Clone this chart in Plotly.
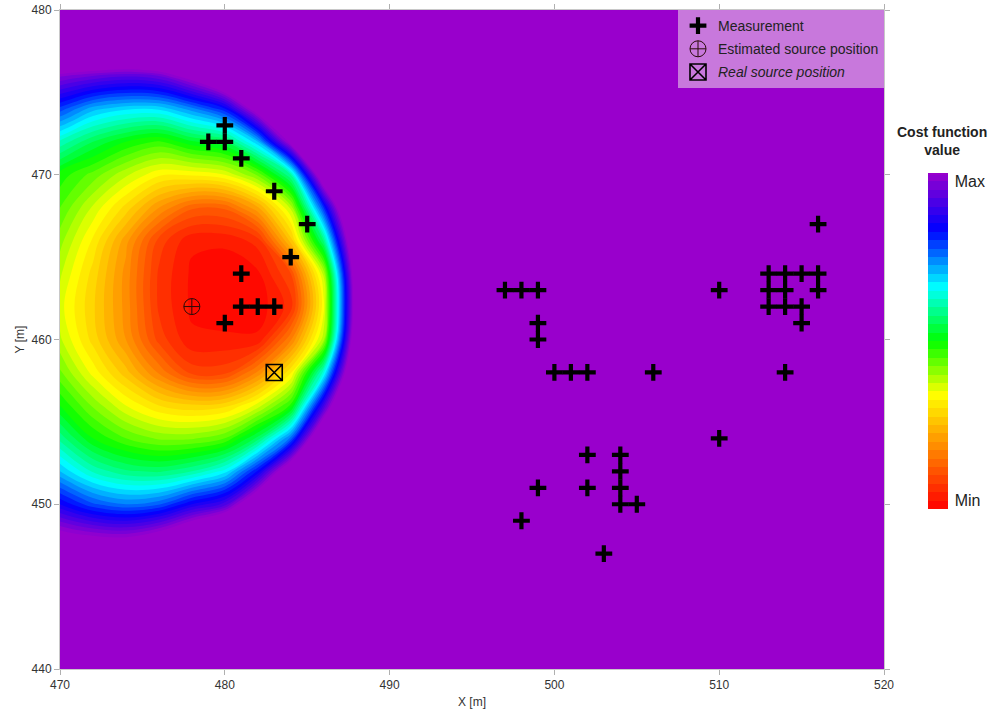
import plotly.graph_objects as go

# Normalised cost-function surface (0 = Min, 1 = Max; values above 1 are shown as Max)
grid_x = [466, 470, 472, 474, 476, 478, 480, 482, 484, 486, 488, 490, 520]
grid_y = [440, 446, 448, 450, 452, 454, 456, 458, 460, 462, 464, 466,
          468, 470, 472, 474, 476, 478, 480]
cost = [
    # 466   470   472   474   476   478   480   482   484   486   488   490   520
    [1.80, 1.80, 1.80, 1.80, 1.80, 1.80, 1.80, 1.80, 1.80, 1.80, 1.80, 1.80, 1.80],  # 440
    [1.60, 1.47, 1.41, 1.40, 1.44, 1.54, 1.70, 1.80, 1.80, 1.80, 1.80, 1.80, 1.80],  # 446
    [1.15, 1.04, 1.01, 1.00, 1.05, 1.15, 1.28, 1.49, 1.70, 1.80, 1.80, 1.80, 1.80],  # 448
    [1.00, 0.85, 0.78, 0.75, 0.77, 0.85, 0.91, 1.13, 1.40, 1.70, 1.80, 1.80, 1.80],  # 450
    [0.86, 0.70, 0.62, 0.58, 0.57, 0.60, 0.66, 0.83, 1.11, 1.43, 1.80, 1.80, 1.80],  # 452
    [0.78, 0.59, 0.50, 0.45, 0.42, 0.42, 0.45, 0.56, 0.76, 1.17, 1.52, 1.80, 1.80],  # 454
    [0.68, 0.50, 0.42, 0.35, 0.30, 0.28, 0.29, 0.36, 0.48, 0.90, 1.34, 1.72, 1.80],  # 456
    [0.60, 0.43, 0.34, 0.26, 0.17, 0.09, 0.09, 0.18, 0.32, 0.64, 1.20, 1.59, 1.80],  # 458
    [0.55, 0.38, 0.29, 0.20, 0.09, 0.03, 0.03, 0.03, 0.17, 0.39, 1.12, 1.51, 1.80],  # 460
    [0.54, 0.36, 0.28, 0.19, 0.07, 0.02, 0.01, 0.01, 0.06, 0.34, 1.08, 1.48, 1.80],  # 462
    [0.56, 0.38, 0.29, 0.19, 0.07, 0.02, 0.01, 0.02, 0.10, 0.38, 1.10, 1.50, 1.80],  # 464
    [0.60, 0.41, 0.32, 0.21, 0.09, 0.03, 0.03, 0.06, 0.26, 0.58, 1.17, 1.56, 1.80],  # 466
    [0.62, 0.45, 0.37, 0.29, 0.20, 0.13, 0.13, 0.22, 0.38, 0.80, 1.29, 1.67, 1.80],  # 468
    [0.62, 0.49, 0.44, 0.38, 0.33, 0.33, 0.35, 0.43, 0.60, 1.11, 1.46, 1.80, 1.80],  # 470
    [0.72, 0.62, 0.55, 0.50, 0.47, 0.52, 0.55, 0.70, 1.03, 1.34, 1.66, 1.80, 1.80],  # 472
    [0.90, 0.79, 0.71, 0.68, 0.68, 0.74, 0.82, 1.06, 1.31, 1.59, 1.80, 1.80, 1.80],  # 474
    [1.10, 0.98, 0.95, 0.93, 0.95, 1.04, 1.19, 1.39, 1.62, 1.80, 1.80, 1.80, 1.80],  # 476
    [1.50, 1.35, 1.29, 1.28, 1.33, 1.42, 1.55, 1.73, 1.80, 1.80, 1.80, 1.80, 1.80],  # 478
    [1.80, 1.80, 1.80, 1.80, 1.80, 1.80, 1.80, 1.80, 1.80, 1.80, 1.80, 1.80, 1.80],  # 480
]

# Measurement positions [m]
meas_x = [480, 479, 480, 481, 483, 485, 484, 481, 481, 482, 483, 480,
          497, 498, 499, 499, 499, 500, 501, 502, 506, 510, 510,
          502, 504, 504, 504, 504, 505, 499, 502, 498, 503,
          516, 513, 514, 515, 516, 513, 514, 516, 513, 514, 515, 515, 514]
meas_y = [473, 472, 472, 471, 469, 467, 465, 464, 462, 462, 462, 461,
          463, 463, 463, 461, 460, 458, 458, 458, 458, 463, 454,
          453, 453, 452, 451, 450, 450, 451, 451, 449, 447,
          467, 464, 464, 464, 464, 463, 463, 463, 462, 462, 462, 461, 458]

est_x, est_y = [478], [462]
real_x, real_y = [483], [458]

x_ticks = [470, 480, 490, 500, 510, 520]
y_ticks = [440, 450, 460, 470, 480]

rainbow = [
    [0.00, "#ff0000"],
    [0.34, "#ffff00"],
    [0.50, "#00ff00"],
    [0.66, "#00ffff"],
    [0.83, "#0000ff"],
    [1.00, "#9900cc"],
]

FONT = "Liberation Sans, Arial, sans-serif"

fig = go.Figure()

fig.add_trace(go.Contour(
    x=grid_x, y=grid_y, z=cost,
    zmin=0, zmax=1,
    colorscale=rainbow,
    contours=dict(start=0, end=1, size=0.025, coloring="fill", showlines=False),
    line=dict(width=0, smoothing=1.0),
    hoverinfo="skip",
    showlegend=False,
    colorbar=dict(
        thickness=20, len=336, lenmode="pixels",
        x=1.0534, xanchor="left", xpad=0,
        y=0.7527, yanchor="top", ypad=0,
        tickvals=[0.025, 0.975], ticktext=["Min", "Max"],
        ticks="outside", ticklen=4, tickcolor="rgba(0,0,0,0)",
        outlinewidth=0,
        tickfont=dict(family=FONT, size=16, color="#222"),
    ),
))

fig.add_trace(go.Scatter(
    x=meas_x, y=meas_y, mode="markers", name="Measurement", legendgroup="m",
    marker=dict(symbol="cross-thin", size=12, color="black",
                line=dict(width=4.2, color="black")),
    hoverinfo="skip",
))
fig.add_trace(go.Scatter(
    x=est_x, y=est_y, mode="markers", name="Estimated source position", legendgroup="e",
    marker=dict(symbol="circle-cross-open", size=16, color="#2a0a0a",
                line=dict(width=1)),
    hoverinfo="skip",
))
fig.add_trace(go.Scatter(
    x=real_x, y=real_y, mode="markers", name="<i>Real source position</i>", legendgroup="r",
    marker=dict(symbol="square-x-open", size=16, color="black",
                line=dict(width=1.6)),
    hoverinfo="skip",
))

axis_common = dict(
    showgrid=False, zeroline=False, automargin=False,
    showline=True, linecolor="#c8c8c8", linewidth=1, mirror="ticks",
    ticks="outside", ticklen=5, tickcolor="#b0b0b0",
    tickfont=dict(family=FONT, size=12, color="#333"),
)

fig.update_layout(
    width=992, height=710,
    margin=dict(l=60, r=108, t=10, b=41, autoexpand=False),
    paper_bgcolor="white",
    plot_bgcolor="#9900cc",
    font=dict(family=FONT, color="#222"),
    xaxis=dict(range=[470, 520], tickvals=x_ticks,
               title=dict(text="X [m]", font=dict(size=12, color="#333"), standoff=6),
               **axis_common),
    yaxis=dict(range=[440, 480], tickvals=y_ticks,
               title=dict(text="Y [m]", font=dict(size=12, color="#333"), standoff=4),
               **axis_common),
    legend=dict(
        x=1, xanchor="right", y=1, yanchor="top",
        bgcolor="#c878dc", borderwidth=0,
        traceorder="grouped", tracegroupgap=2,
        font=dict(family=FONT, size=14, color="#222"),
    ),
    annotations=[dict(
        text="<b>Cost function<br>value</b>",
        xref="paper", yref="paper", x=1.0704, y=0.801,
        xanchor="center", yanchor="middle", showarrow=False,
        font=dict(family=FONT, size=14, color="#222"),
    )],
)

fig.write_html("out.html")
